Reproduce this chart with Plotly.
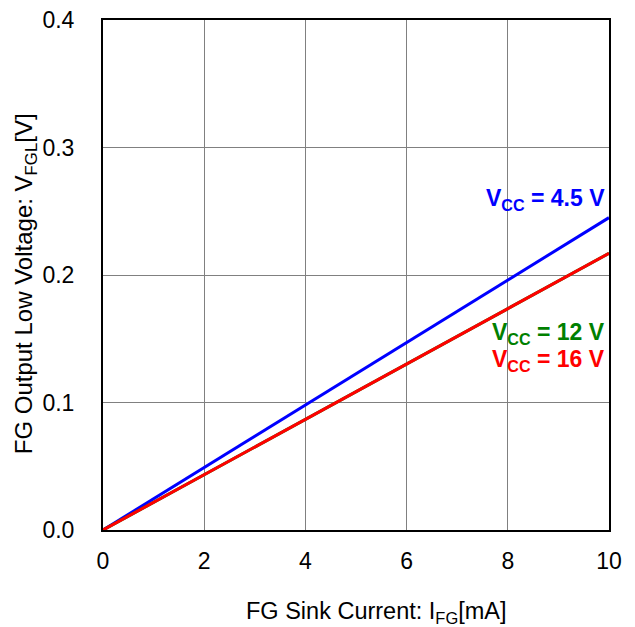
import plotly.graph_objects as go

x_ma = [0, 2, 4, 6, 8, 10]
v_45 = [0, 0.049, 0.098, 0.147, 0.196, 0.245]
v_12 = [0, 0.0434, 0.0868, 0.130, 0.174, 0.217]
v_16 = [0, 0.0434, 0.0868, 0.130, 0.174, 0.217]
x_ticks = [0, 2, 4, 6, 8, 10]
y_ticks = [0.0, 0.1, 0.2, 0.3, 0.4]
y_tick_text = ["0.0", "0.1", "0.2", "0.3", "0.4"]

font = "Liberation Sans, Arial, sans-serif"
fig = go.Figure()
fig.add_trace(go.Scatter(x=x_ma, y=v_45, mode="lines", line=dict(color="#0000ff", width=3), showlegend=False))
fig.add_trace(go.Scatter(x=x_ma, y=v_12, mode="lines", line=dict(color="#008000", width=3), showlegend=False))
fig.add_trace(go.Scatter(x=x_ma, y=v_16, mode="lines", line=dict(color="#ff0000", width=3), showlegend=False))

fig.update_layout(
    width=635, height=627,
    margin=dict(l=103, r=26, t=20, b=97),
    paper_bgcolor="white", plot_bgcolor="white",
    font=dict(family=font, size=22, color="black"),
    xaxis=dict(range=[0, 10], tickvals=x_ticks, showgrid=True, gridcolor="#808080", gridwidth=1,
               showline=True, linecolor="black", linewidth=2, mirror=True, zeroline=False, automargin=False,
               ticks="", ticklabelstandoff=9, tickfont=dict(size=23)),
    yaxis=dict(range=[0, 0.4], tickvals=y_ticks, ticktext=y_tick_text, showgrid=True, gridcolor="#808080", gridwidth=1,
               showline=True, linecolor="black", linewidth=2, mirror=True, zeroline=False, automargin=False,
               ticks="", ticklabelstandoff=22, tickfont=dict(size=23)),
    annotations=[
        dict(x=0.540, y=-0.162, xref="paper", yref="paper", showarrow=False,
             text="FG Sink Current: I<sub>FG</sub>[mA]", font=dict(size=23.5), xanchor="center", yanchor="middle"),
        dict(x=-0.154, y=0.482, xref="paper", yref="paper", showarrow=False, textangle=-90,
             text="FG Output Low Voltage: V<sub>FGL</sub>[V]", font=dict(size=24), xanchor="center", yanchor="middle"),
        dict(x=1, y=0.259, xref="paper", yref="y", xshift=-2, showarrow=False, xanchor="right", yanchor="middle",
             text="<b>V<sub>CC</sub> = 4.5 V</b>", font=dict(size=23, color="#0000ff")),
        dict(x=1, y=0.1545, xref="paper", yref="y", xshift=-2, showarrow=False, xanchor="right", yanchor="middle",
             text="<b>V<sub>CC</sub> = 12 V</b>", font=dict(size=23, color="#008000")),
        dict(x=1, y=0.133, xref="paper", yref="y", xshift=-2, showarrow=False, xanchor="right", yanchor="middle",
             text="<b>V<sub>CC</sub> = 16 V</b>", font=dict(size=23, color="#ff0000")),
    ],
)
fig.write_html("out.html", config={"displayModeBar": False},
               post_script="document.body.style.margin='0';document.body.style.overflow='hidden';")
